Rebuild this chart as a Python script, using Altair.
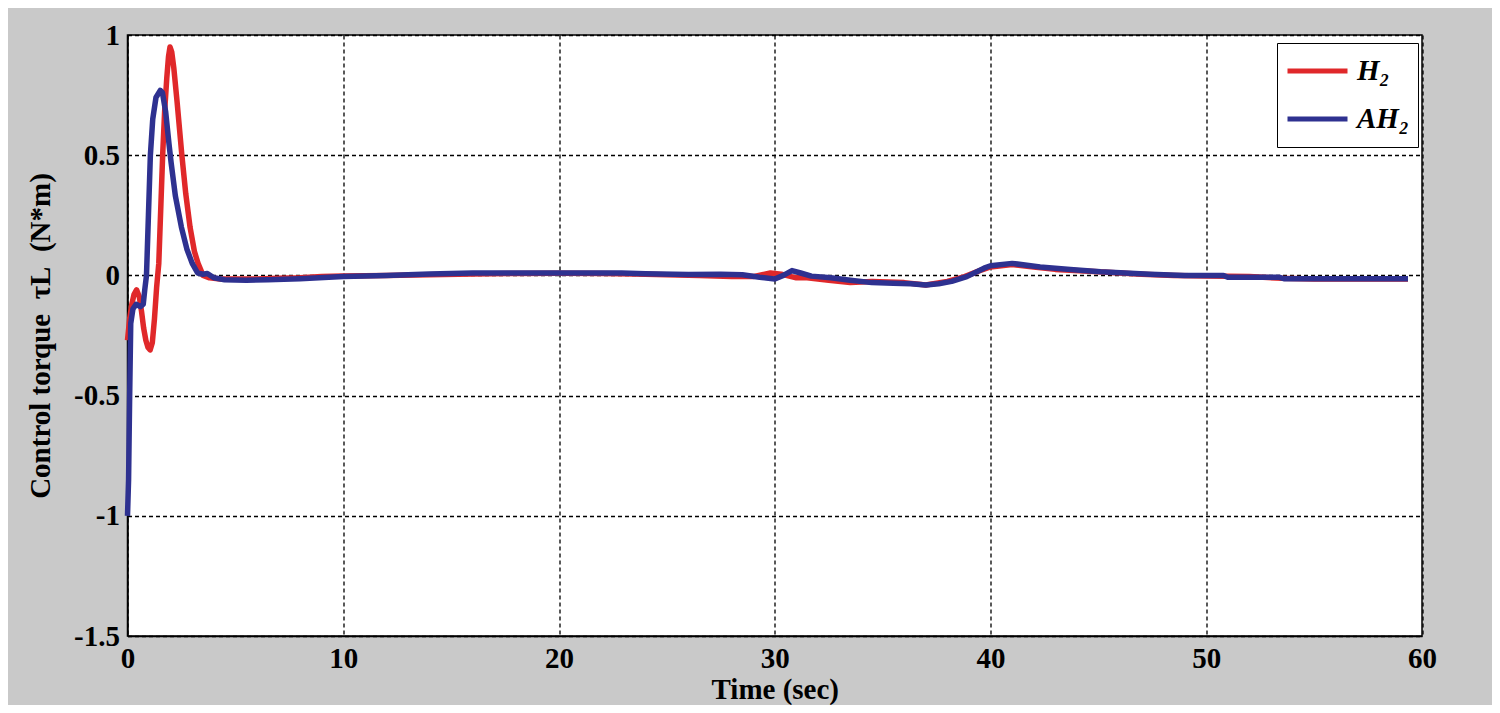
import altair as alt
import pandas as pd

# H2 controller (red)
h2_t = [0.0, 0.1, 0.2, 0.3, 0.42, 0.55, 0.65, 0.75, 0.85, 0.95, 1.05, 1.15, 1.25, 1.35, 1.45,
        1.55, 1.63, 1.72, 1.82, 1.9, 1.97, 2.05, 2.15, 2.3, 2.52, 2.7, 2.9, 3.1, 3.27, 3.5,
        3.8, 4.3, 5.0, 6.0, 7.0, 8.0, 9.0, 10.0, 12.0, 14.0, 16.0, 18.0, 20.0, 22.0, 23.5,
        25.0, 26.5, 28.0, 29.0, 29.8, 30.3, 31.0, 31.5, 32.5, 33.5, 34.5, 36.0, 37.0, 38.0,
        38.8, 39.5, 40.0, 41.0, 42.0, 43.0, 45.0, 47.0, 48.5, 50.0, 52.0, 53.5, 55.0, 59.35]
h2_v = [-0.27, -0.18, -0.12, -0.08, -0.06, -0.09, -0.15, -0.22, -0.27, -0.30, -0.31, -0.28, -0.18, -0.05, 0.05,
        0.30, 0.50, 0.68, 0.82, 0.91, 0.95, 0.93, 0.86, 0.72, 0.50, 0.34, 0.20, 0.10, 0.05, 0.0,
        -0.01, -0.015, -0.015, -0.015, -0.012, -0.01, -0.005, -0.003, 0.0, 0.003, 0.006, 0.008, 0.009, 0.008, 0.006,
        0.003, 0.0, -0.005, -0.005, 0.01, 0.005, -0.01, -0.01, -0.02, -0.03, -0.025, -0.03, -0.04, -0.025,
        -0.005, 0.02, 0.035, 0.045, 0.035, 0.025, 0.015, 0.005, 0.0, -0.003, -0.005, -0.012, -0.015, -0.015]

# AH2 controller (blue)
ah2_t = [0.0, 0.05, 0.1, 0.15, 0.25, 0.4, 0.6, 0.73, 0.8, 0.88, 0.97, 1.06, 1.17, 1.32, 1.52,
         1.62, 1.77, 1.92, 2.02, 2.22, 2.5, 2.75, 3.0, 3.25, 3.5, 3.7, 4.0, 4.5, 5.5, 6.5,
         8.0, 10.0, 12.0, 14.0, 16.0, 20.0, 22.9, 24.0, 26.0, 27.5, 28.5, 29.3, 30.0, 30.4, 30.8,
         31.2, 31.7, 32.6, 33.5, 34.5, 35.5, 36.3, 37.0, 37.6, 38.2, 38.9, 39.7, 40.0, 41.0, 42.3,
         43.7, 45.1, 47.4, 49.0, 50.8, 51.0, 53.4, 53.6, 59.35]
ah2_v = [-1.0, -0.85, -0.5, -0.2, -0.14, -0.12, -0.13, -0.12, -0.06, 0.0, 0.25, 0.50, 0.65, 0.74, 0.77,
         0.76, 0.68, 0.55, 0.47, 0.33, 0.20, 0.11, 0.05, 0.01, 0.005, 0.008, -0.01, -0.018, -0.02, -0.018,
         -0.014, -0.005, 0.0, 0.006, 0.01, 0.01, 0.01, 0.007, 0.004, 0.005, 0.003, -0.008, -0.015, 0.0, 0.02,
         0.01, -0.003, -0.01, -0.02, -0.03, -0.033, -0.035, -0.04, -0.035, -0.025, -0.005, 0.03, 0.04, 0.05, 0.035,
         0.025, 0.015, 0.005, 0.0, 0.0, -0.008, -0.008, -0.014, -0.014]

series_names = ["H\u2082", "AH\u2082"]
series_colors = ["#e0282a", "#2e3190"]

x_ticks = [0, 10, 20, 30, 40, 50, 60]
y_ticks = [-1.5, -1, -0.5, 0, 0.5, 1]

rows = []
for i, (t, v) in enumerate(zip(h2_t, h2_v)):
    rows.append({"t": t, "v": v, "s": series_names[0], "o": i})
for i, (t, v) in enumerate(zip(ah2_t, ah2_v)):
    rows.append({"t": t, "v": v, "s": series_names[1], "o": i})
df = pd.DataFrame(rows)

FONT = "Liberation Serif"
NB = "\u00a0"
y_title = "Control torque" + NB * 2 + "\u03c4L" + NB * 2 + "(N*m)"
label_expr = ("datum.value == 0 ? '0' : datum.value == 1 ? '1' : datum.value == -1 ? '-1' : "
              "datum.value == 0.5 ? '0.5' : datum.value == -0.5 ? '-0.5' : '-1.5'")

chart = alt.Chart(df).mark_line(strokeWidth=5.5, strokeJoin="round").encode(
    x=alt.X("t:Q", scale=alt.Scale(domain=[0, 60], nice=False),
            axis=alt.Axis(values=x_ticks, title="Time (sec)", format="d")),
    y=alt.Y("v:Q", scale=alt.Scale(domain=[-1.5, 1], nice=False),
            axis=alt.Axis(values=y_ticks, title=y_title, labelExpr=label_expr)),
    color=alt.Color("s:N", scale=alt.Scale(domain=series_names, range=series_colors),
                    sort=series_names,
                    legend=alt.Legend(title=None, orient="none", legendX=1149.5, legendY=8,
                                      symbolType="stroke", symbolSize=3600, symbolStrokeWidth=5,
                                      clipHeight=40, labelOffset=7,
                                      labelFont=FONT, labelFontSize=29, labelFontStyle="italic",
                                      labelFontWeight="bold", labelColor="black",
                                      fillColor="white", strokeColor="black", padding=8,
                                      rowPadding=8)),
    detail="s:N",
    order="o:Q",
).properties(
    width=1294.5, height=601,
    autosize=alt.AutoSizeParams(type="none"),
    padding={"left": 119.5, "top": 27, "right": 70, "bottom": 69},
).configure(
    background="#c9c9c9",
).configure_view(
    fill="white", stroke="black", strokeWidth=1.5,
).configure_axis(
    labelFont=FONT, labelFontSize=29, labelFontWeight="bold", labelColor="black",
    titleFont=FONT, titleFontSize=29, titleFontWeight="bold", titleColor="black",
    grid=True, gridColor="black", gridDash=[4, 3], gridWidth=1.3, gridOpacity=1,
    domainColor="black", domainWidth=1.5, tickColor="black", tickSize=0,
    labelPadding=8, labelFlush=False,
).configure_axisX(
    titlePadding=2,
).configure_axisY(
    titlePadding=18,
)

chart.save("out.html", embed_options={"renderer": "svg", "actions": False})
